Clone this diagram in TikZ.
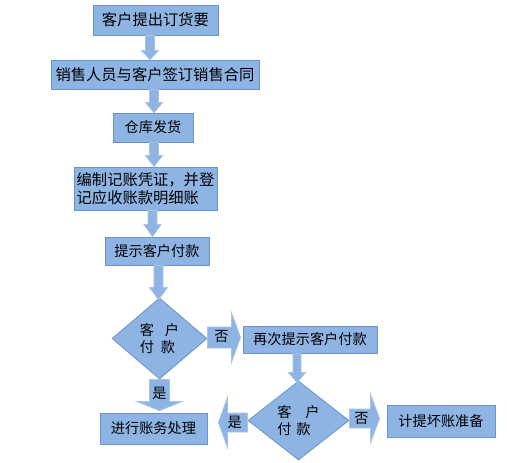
\documentclass[tikz,border=0pt]{standalone}
\usepackage{fontspec}
\setmainfont{Noto Sans CJK SC}
\usetikzlibrary{shapes.geometric,calc}
\definecolor{boxfill}{HTML}{8EB4E3}
\definecolor{boxline}{HTML}{6A93CB}
\definecolor{arrline}{HTML}{A9C3E6}
\newcommand\blkdown[5]{%
  \path[arr] let \p1=#1, \p2=#2 in
    (\x1-#3,\y1) -- (\x1+#3,\y1) -- (\x1+#3,\y2+#5) -- (\x1+#4,\y2+#5) -- (\x1,\y2)
    -- (\x1-#4,\y2+#5) -- (\x1-#3,\y2+#5) -- cycle;}
\newcommand\blkright[5]{%
  \path[arr] let \p1=#1, \p2=#2 in
    (\x1,\y1+#3) -- (\x2-#5,\y1+#3) -- (\x2-#5,\y1+#4) -- (\x2,\y1)
    -- (\x2-#5,\y1-#4) -- (\x2-#5,\y1-#3) -- (\x1,\y1-#3) -- cycle;}
\newcommand\blkleft[5]{%
  \path[arr] let \p1=#1, \p2=#2 in
    (\x1,\y1+#3) -- (\x2+#5,\y1+#3) -- (\x2+#5,\y1+#4) -- (\x2,\y1)
    -- (\x2+#5,\y1-#4) -- (\x2+#5,\y1-#3) -- (\x1,\y1-#3) -- cycle;}
\begin{document}
\begin{tikzpicture}[x=1pt,y=-1pt,
  box/.style={draw=boxline, fill=boxfill, line width=0.8pt, inner sep=0pt,
    font=\fontsize{14.2}{17.5}\selectfont},
  bigtxt/.style={font=\fontsize{15.3}{17.8}\selectfont},
  dia/.style={diamond, draw=boxline, fill=boxfill, line width=0.8pt, inner sep=0pt,
    align=left, font=\fontsize{14.2}{16.5}\selectfont},
  arr/.style={draw=arrline, fill=boxfill, line width=0.8pt},
  lbl/.style={inner sep=0pt, font=\fontsize{14.2}{17}\selectfont}]
\useasboundingbox (0,0) rectangle (507,463);
\fill[white] (0,0) rectangle (507,463);

\node[box,bigtxt,minimum width=125pt,minimum height=30pt] (b1) at (155.5,20) {客户提出订货要};
\node[box,bigtxt,minimum width=208pt,minimum height=29pt] (b2) at (155,74.5) {销售人员与客户签订销售合同};
\node[box,minimum width=80pt,minimum height=29pt] (b3) at (153,127.5) {仓库发货};
\node[box,bigtxt,minimum width=143pt,minimum height=43pt,align=left] (b4) at (145.5,188.5) {编制记账凭证，并登\\记应收账款明细账};
\node[box,minimum width=104pt,minimum height=28pt] (b5) at (157,251) {提示客户付款};
\node[dia,minimum width=95pt,minimum height=81pt] (d1) at (159.5,338.5) {客\hspace{11pt}户\\付\hspace{7pt}款};
\node[box,minimum width=134pt,minimum height=27pt] (b6) at (310,339.5) {再次提示客户付款};
\node[dia,minimum width=101pt,minimum height=79pt] (d2) at (298.5,420.5) {客\hspace{14pt}户\\付\hspace{5pt}款};
\node[box,minimum width=107pt,minimum height=31pt] (b7) at (153.5,428.5) {进行账务处理};
\node[box,minimum width=108pt,minimum height=32pt] (b8) at (441,421) {计提坏账准备};

\blkdown{([xshift=-5.5pt]b1.south)}{(b2.north)}{4.5pt}{8.5pt}{9pt}
\blkdown{([xshift=-1pt]b2.south)}{(b3.north)}{4.5pt}{8.5pt}{10pt}
\blkdown{([xshift=1pt]b3.south)}{(b4.north)}{4.5pt}{8.5pt}{11pt}
\blkdown{([xshift=7pt]b4.south)}{(b5.north)}{4.5pt}{8.5pt}{12pt}
\blkdown{([xshift=1.5pt]b5.south)}{([yshift=-2pt]d1.north)}{4.5pt}{9pt}{12pt}
\blkdown{([xshift=-13pt]b6.south)}{([yshift=-2pt]d2.north)}{4pt}{8.5pt}{10pt}
\blkright{([yshift=1pt]d1.east)}{([xshift=-2pt]b6.west)}{10.5pt}{24.5pt}{9pt}
\blkdown{(d1.south)}{([yshift=2pt]b7.north)}{10pt}{22.5pt}{9pt}
\blkleft{([yshift=-2pt]d2.west)}{([xshift=11pt]b7.east)}{9.5pt}{25pt}{9pt}
\blkright{([yshift=2pt]d2.east)}{([xshift=-7pt]b8.west)}{9.5pt}{24pt}{9pt}

\node[lbl] (no1) at ([xshift=14pt,yshift=1.5pt]d1.east) {否};
\node[lbl] (yes1) at ([yshift=-14pt]d1.south) {是};
\node[lbl] (yes2) at ([xshift=-13pt,yshift=-1.5pt]d2.west) {是};
\node[lbl] (no2) at ([xshift=12pt,yshift=1.5pt]d2.east) {否};
\end{tikzpicture}
\end{document}
